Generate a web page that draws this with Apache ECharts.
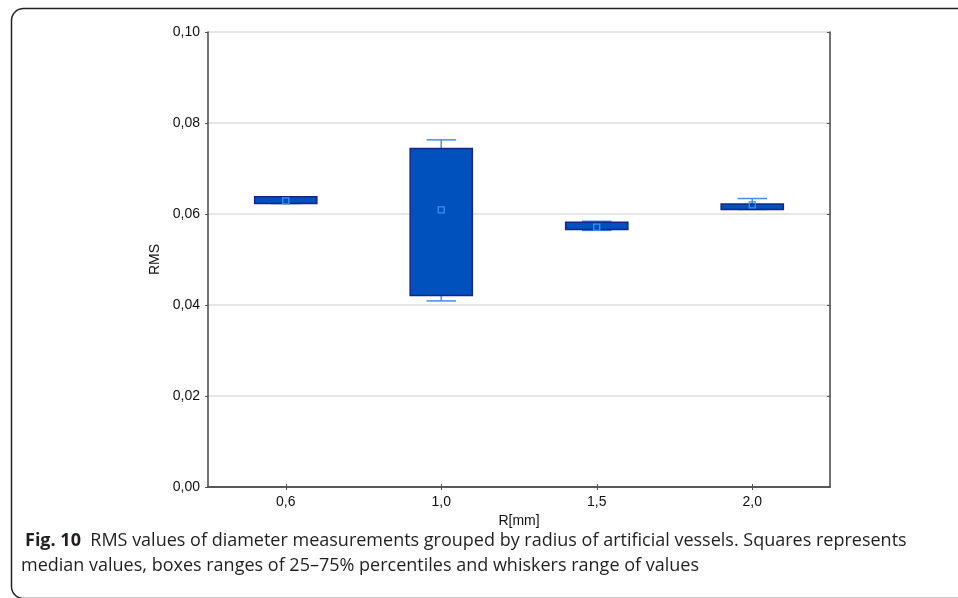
<!DOCTYPE html>
<html>
<head>
<meta charset="utf-8">
<script src="https://cdn.jsdelivr.net/npm/echarts@6/dist/echarts.min.js"></script>
<style>
html,body{margin:0;padding:0;background:#fff;}
#chart{width:958px;height:598px;}
</style>
</head>
<body>
<div id="chart"></div>
<script>
var categories = ['0,6', '1,0', '1,5', '2,0'];
var mins    = [0.0623, 0.0409, 0.0564, 0.0610];
var q1s     = [0.0623, 0.0421, 0.0566, 0.0610];
var medians = [0.0629, 0.0609, 0.0571, 0.0620];
var q3s     = [0.0638, 0.0744, 0.0582, 0.0622];
var maxs    = [0.0638, 0.0763, 0.0584, 0.0634];
var yTicks = [0, 0.02, 0.04, 0.06, 0.08, 0.10];

var boxData = categories.map(function (c, i) {
  return [i, mins[i], q1s[i], medians[i], q3s[i], maxs[i]];
});

var FILL = '#0050be', BORDER = '#17258a', WHISK = '#3f90f2';
var AXIS = '#505050';
var LBL = '#111111';

function fmt(v) { return v.toFixed(2).replace('.', ','); }

var chart = echarts.init(document.getElementById('chart'));
chart.setOption({
  animation: false,
  backgroundColor: '#ffffff',
  grid: { left: 208, top: 32, right: 128, bottom: 111, containLabel: false },
  xAxis: [{
    type: 'category', data: categories, position: 'bottom',
    name: 'R[mm]', nameLocation: 'middle', nameGap: 27,
    nameTextStyle: { fontFamily: 'Liberation Sans', fontSize: 14, color: LBL },
    axisLine: { show: true, lineStyle: { color: AXIS, width: 1.6 } },
    axisTick: { show: true, inside: true, alignWithLabel: true, length: 3, lineStyle: { color: AXIS, width: 1 } },
    axisLabel: { fontFamily: 'Liberation Sans', fontSize: 14, color: LBL, margin: 8 },
    splitLine: { show: false }
  }, {
    type: 'category', data: categories, position: 'top',
    axisLine: { show: true, lineStyle: { color: AXIS, width: 1.6 } },
    axisTick: { show: true, inside: true, alignWithLabel: true, length: 3, lineStyle: { color: AXIS, width: 1 } },
    axisLabel: { show: false },
    splitLine: { show: false }
  }],
  yAxis: [{
    type: 'value', min: 0, max: 0.1, interval: 0.02, position: 'left',
    name: 'RMS', nameLocation: 'middle', nameGap: 44, nameRotate: 90,
    nameTextStyle: { fontFamily: 'Liberation Sans', fontSize: 14, color: LBL },
    axisLine: { show: true, lineStyle: { color: AXIS, width: 1.6 } },
    axisTick: { show: true, inside: false, length: 3, lineStyle: { color: AXIS, width: 1 } },
    axisLabel: { fontFamily: 'Liberation Sans', fontSize: 14, color: LBL, margin: 8,
      formatter: function (v) { return fmt(v); } },
    splitLine: { show: true, lineStyle: { color: '#dedede', width: 1.5 } }
  }, {
    type: 'value', min: 0, max: 0.1, interval: 0.02, position: 'right',
    axisLine: { show: true, lineStyle: { color: AXIS, width: 1.6 } },
    axisTick: { show: true, inside: true, length: 3, lineStyle: { color: AXIS, width: 1 } },
    axisLabel: { show: false },
    splitLine: { show: false }
  }],
  series: [{
    type: 'custom',
    xAxisIndex: 0, yAxisIndex: 0,
    data: boxData,
    encode: { x: 0, y: [1, 2, 3, 4, 5] },
    renderItem: function (params, api) {
      var x = api.value(0);
      var pMin = api.coord([x, api.value(1)]);
      var pQ1 = api.coord([x, api.value(2)]);
      var pMed = api.coord([x, api.value(3)]);
      var pQ3 = api.coord([x, api.value(4)]);
      var pMax = api.coord([x, api.value(5)]);
      var band = api.size([1, 0])[0];
      var bw = band * 0.4, cw = band * 0.19;
      var cx = pMed[0];
      var wStyle = { stroke: WHISK, lineWidth: 1.5, fill: null };
      var children = [];
      children.push({ type: 'line', shape: { x1: cx, y1: pMin[1], x2: cx, y2: pQ1[1] }, style: wStyle });
      children.push({ type: 'line', shape: { x1: cx, y1: pQ3[1], x2: cx, y2: pMax[1] }, style: wStyle });
      children.push({ type: 'line', shape: { x1: cx - cw / 2, y1: pMin[1], x2: cx + cw / 2, y2: pMin[1] }, style: wStyle });
      children.push({ type: 'line', shape: { x1: cx - cw / 2, y1: pMax[1], x2: cx + cw / 2, y2: pMax[1] }, style: wStyle });
      children.push({ type: 'rect', shape: { x: cx - bw / 2, y: pQ3[1], width: bw, height: pQ1[1] - pQ3[1] },
        style: { fill: FILL, stroke: BORDER, lineWidth: 1.5 } });
      children.push({ type: 'rect', shape: { x: cx - 3, y: pMed[1] - 3, width: 6, height: 6 },
        style: { fill: null, stroke: WHISK, lineWidth: 1.3 } });
      return { type: 'group', children: children };
    }
  }],
  graphic: [{
    type: 'rect', silent: true,
    shape: { x: 11.5, y: 8.5, width: 1000, height: 590, r: 12 },
    style: { fill: null, stroke: '#222222', lineWidth: 1.5 }
  }, {
    type: 'text', left: 25, top: 532,
    style: {
      text: '{b|Fig. 10}  RMS values of diameter measurements grouped by radius of artificial vessels. Squares represents',
      fontFamily: 'Open Sans', fontSize: 18, fill: '#231f20',
      rich: { b: { fontFamily: 'Open Sans', fontSize: 18, fontWeight: 'bold', fill: '#231f20' } }
    }
  }, {
    type: 'text', left: 21, top: 557,
    style: {
      text: 'median values, boxes ranges of 25–75% percentiles and whiskers range of values',
      fontFamily: 'Open Sans', fontSize: 18, fill: '#231f20'
    }
  }]
});
</script>
</body>
</html>
